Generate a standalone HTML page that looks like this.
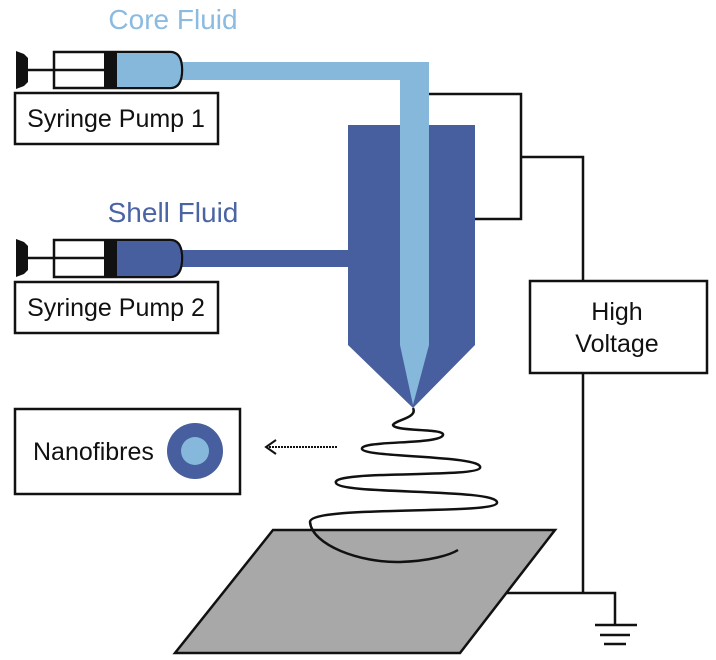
<!DOCTYPE html>
<html><head><meta charset="utf-8"><style>
body{margin:0;background:#fff;}
svg{display:block;font-family:"Liberation Sans",sans-serif;}
</style></head><body>
<svg width="716" height="660" viewBox="0 0 716 660" xmlns="http://www.w3.org/2000/svg">
<rect width="716" height="660" fill="#fff"/>
<text x="173" y="29" font-size="28" fill="#8bbbe0" text-anchor="middle">Core Fluid</text>
<text x="173" y="222" font-size="28" fill="#4a64a4" text-anchor="middle">Shell Fluid</text>

<!-- nozzle -->
<polygon points="348,125 475,125 475,345 413,408 348,345" fill="#485f9f"/>
<!-- core tube -->
<rect x="182" y="62" width="247" height="18" fill="#86b8dc"/>
<polygon points="400,62 429,62 429,345 413,405 400,345" fill="#86b8dc"/>
<!-- shell tube -->
<rect x="182" y="250" width="168" height="17" fill="#485f9f"/>

<!-- syringes -->
<g stroke="#111" stroke-width="2.5" fill="none">
  <path d="M54,52 H170 Q182,52 182,70 Q182,88 170,88 H54 Z" fill="#fff"/>
  <path d="M117,53 H170 Q181,53 181,70 Q181,87 170,87 H117 Z" fill="#86b8dc" stroke="none"/>
  <line x1="28" y1="70" x2="104" y2="70"/>
  <path d="M54,240 H170 Q182,240 182,258 Q182,277 170,277 H54 Z" fill="#fff"/>
  <path d="M117,241 H170 Q181,241 181,258 Q181,276 170,276 H117 Z" fill="#485f9f" stroke="none"/>
  <line x1="28" y1="258" x2="104" y2="258"/>
</g>
<rect x="104" y="52" width="13" height="36" fill="#111"/>
<rect x="104" y="240" width="13" height="37" fill="#111"/>
<polygon points="16,51 24,54 28,58 28,82 24,86 16,89" fill="#111"/>
<polygon points="16,239 24,242 28,246 28,270 24,274 16,277" fill="#111"/>

<!-- boxes -->
<g stroke="#111" stroke-width="2.5" fill="#fff">
<rect x="15" y="93" width="203" height="51"/>
<rect x="15" y="282" width="203" height="51"/>
<rect x="15" y="409" width="225" height="85"/>
<rect x="530" y="281" width="177" height="92"/>
</g>
<g font-size="25" fill="#111">
<text x="116" y="127" text-anchor="middle">Syringe Pump 1</text>
<text x="116" y="316" text-anchor="middle">Syringe Pump 2</text>
<text x="33" y="460" font-size="25">Nanofibres</text>
<text x="617" y="320" text-anchor="middle">High</text>
<text x="617" y="352" text-anchor="middle">Voltage</text>
</g>
<circle cx="195" cy="451" r="28" fill="#485f9f"/>
<circle cx="195" cy="451" r="14" fill="#86b8dc"/>

<!-- wires -->
<g stroke="#111" stroke-width="2.5" fill="none">
<polyline points="429,94 521,94 521,219 475,219"/>
<polyline points="521,157 583,157 583,281"/>
<polyline points="583,373 583,593"/>
<polyline points="507,593 615,593 615,625"/>
<line x1="595" y1="625" x2="637" y2="625"/>
<line x1="600" y1="635" x2="630" y2="635"/>
<line x1="604" y1="644" x2="626" y2="644"/>
</g>

<!-- plate -->
<polygon points="273,530 555,530 460,653 175,653" fill="#a8a8a8" stroke="#111" stroke-width="2.5"/>

<!-- spiral -->
<path d="M413,408 C418,418 395,420 393,425 C395,432 445,428 443,435 C440,445 360,440 362,449 C365,458 485,455 480,468 C475,478 330,470 336,483 C340,495 500,488 497,503 C494,515 310,505 310,522 C312,545 360,563 400,562 C430,561 450,555 458,550" fill="none" stroke="#111" stroke-width="2.5"/>

<!-- arrow -->
<line x1="266" y1="447" x2="338" y2="447" stroke="#111" stroke-width="2" stroke-dasharray="2,1"/>
<polyline points="276,440 266,447 276,454" fill="none" stroke="#111" stroke-width="2"/>
</svg>
</body></html>
